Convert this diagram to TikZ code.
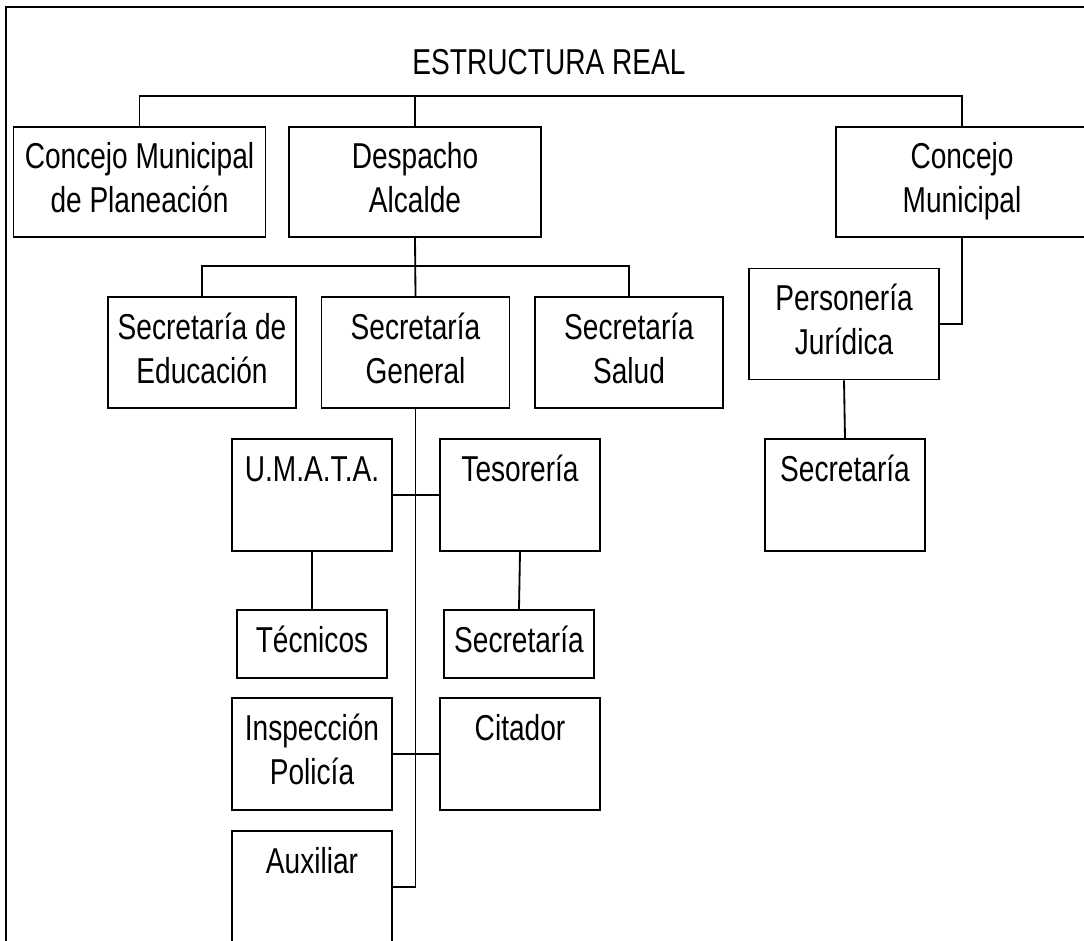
\documentclass[tikz,border=0pt]{standalone}
\usepackage{fontspec}
\setmainfont{Liberation Sans}[FakeStretch=0.78]
\usepackage{tikz}

\begin{document}
\begin{tikzpicture}[
        x=0.025cm, y=-0.025cm,
        box/.style={draw, line width=1.1pt, align=center, inner sep=0pt,
            font=\fontsize{25.6}{31.3}\selectfont},
        bigbox/.style={box, minimum width=6.3cm, minimum height=2.75cm},
        midbox/.style={box, minimum width=4.7cm, minimum height=2.78cm},
        smallbox/.style={box, minimum width=4cm, minimum height=2.8cm},
        tinybox/.style={box, minimum width=3.75cm, minimum height=1.7cm},
        link/.style={line width=1.3pt}
    ]
        \useasboundingbox (0,0) rectangle (1084,940);
        \clip (0,0) rectangle (1084,940);

        % Frame (open at the right and at the bottom)
        \draw[line width=1.1pt] (6,7) rectangle (1110,970);
        \node[font=\fontsize{25.6}{31.3}\selectfont] (title) at (549,62) {ESTRUCTURA REAL};

        % First level
        \node[bigbox] (CMP) at (139.5,182) {\strut Concejo Municipal\\\strut de Planeación};
        \node[bigbox] (DA) at (415,182) {\strut Despacho\\\strut Alcalde};
        \node[bigbox] (CM) at (962,182) {\strut Concejo\\\strut Municipal};

        % Secretarías
        \node[midbox] (SE) at (202,352.5) {\strut Secretaría de\\\strut Educación};
        \node[midbox] (SG) at (415.5,352.5) {\strut Secretaría\\\strut General};
        \node[midbox] (SS) at (629,352.5) {\strut Secretaría\\\strut Salud};

        % Personería
        \node[midbox, minimum width=4.75cm] (PJ) at (844,324) {\strut Personería\\\strut Jurídica};
        \node[smallbox] (SPJ) at (845,495) {\strut Secretaría\\\strut};

        % Dependencias de la Secretaría General
        \node[smallbox] (UMATA) at (312,495) {\strut U.M.A.T.A.\\\strut};
        \node[smallbox] (TES) at (520,495) {\strut Tesorería\\\strut};
        \node[tinybox] (TEC) at (312,644) {\strut Técnicos};
        \node[tinybox] (STES) at (519,644) {\strut Secretaría};
        \node[smallbox] (INS) at (312,754) {\strut Inspección\\\strut Policía};
        \node[smallbox] (CIT) at (520,754) {\strut Citador\\\strut};
        \node[smallbox] (AUX) at (312,887) {\strut Auxiliar\\\strut};

        % Connectors
        \draw[link] (CMP.north) -- ++(0,-30) -| (CM.north);
        \draw[link] (DA.north) -- ++(0,-30);
        \draw[link] (SE.north) -- ++(0,-30) -| (SS.north);
        \draw[link] (DA.south) -- (SG.north);
        \draw[link] (CM.south) |- (PJ.east);
        \draw[link] (PJ.south) -- (SPJ.north);
        \draw[link] (SG.south) |- (AUX.east);
        \draw[link] (UMATA.east) -- (TES.west);
        \draw[link] (INS.east) -- (CIT.west);
        \draw[link] (UMATA.south) -- (TEC.north);
        \draw[link] (TES.south) -- (STES.north);
    \end{tikzpicture}
\end{document}
